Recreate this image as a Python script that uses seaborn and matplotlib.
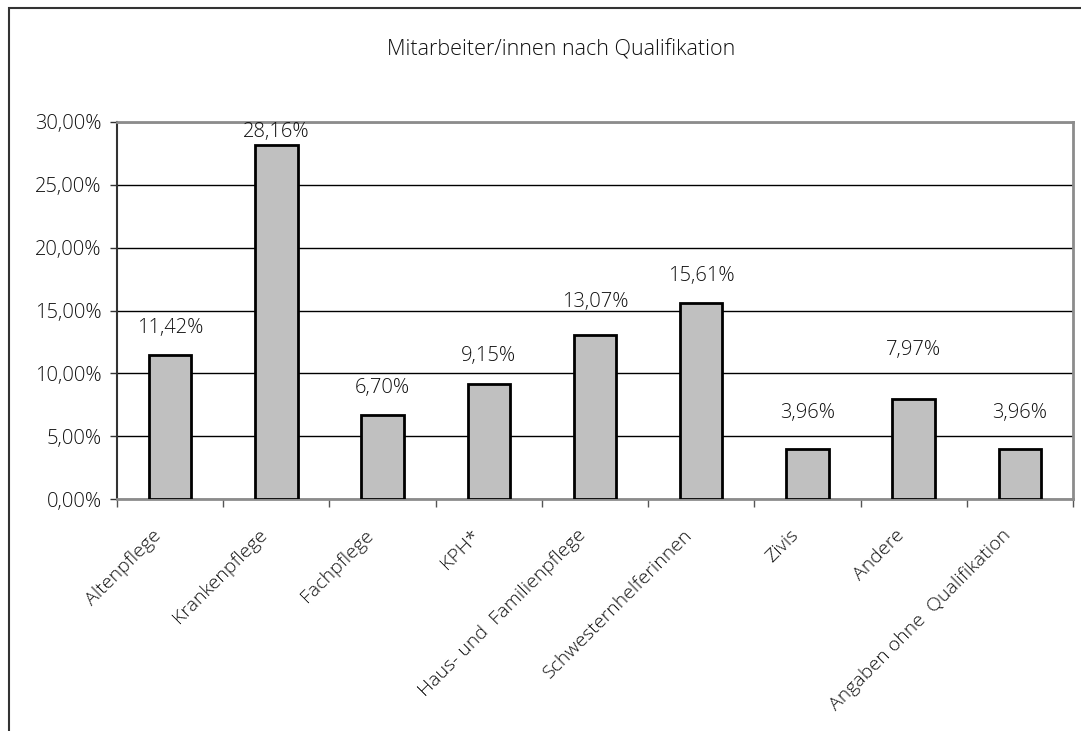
import numpy as np
import pandas as pd
import matplotlib
matplotlib.use("Agg")
import matplotlib.pyplot as plt
import matplotlib.patches as patches
import matplotlib.transforms as mtransforms
from matplotlib.ticker import FixedLocator, FuncFormatter
import seaborn as sns

# Données
qualifikationen = ['Altenpflege', 'Krankenpflege', 'Fachpflege', 'KPH*',
                   'Haus- und  Familienpflege', 'Schwesternhelferinnen', 'Zivis',
                   'Andere', 'Angaben ohne  Qualifikation']
anteile = [11.42, 28.16, 6.70, 9.15, 13.07, 15.61, 3.96, 7.97, 3.96]
# écart (en pixels) entre le haut de la barre et l'étiquette, comme dans l'original
ecarts_etiquettes = [17, 3, 17, 18, 23, 17, 26, 39, 26]
y_ticks = [0, 5, 10, 15, 20, 25, 30]

sns.set_style('white')
plt.rcParams['font.family'] = ['Open Sans', 'DejaVu Sans']
plt.rcParams['font.weight'] = 'light'

df = pd.DataFrame({'Qualifikation': qualifikationen, 'Anteil': anteile})

fig = plt.figure(figsize=(10.81, 7.31), dpi=100)
ax = fig.add_axes([117 / 1081, 1 - 499 / 731, (1073 - 117) / 1081, (499 - 122) / 731])

sns.barplot(data=df, x='Qualifikation', y='Anteil', color='#C0C0C0',
            edgecolor='black', linewidth=2, width=0.4, saturation=1, ax=ax, zorder=3)

ax.set_xlim(-0.5, len(qualifikationen) - 0.5)
ax.set_ylim(0, 30)
ax.yaxis.set_major_locator(FixedLocator(y_ticks))
ax.yaxis.set_major_formatter(FuncFormatter(lambda v, p: f'{v:.2f}%'.replace('.', ',')))
ax.grid(axis='y', color='black', linewidth=1, zorder=0)
ax.set_axisbelow(True)
ax.set_xlabel('')
ax.set_ylabel('')

texte = '#111111'
taille = 14.5
for s in ['top', 'right', 'bottom']:
    ax.spines[s].set_color('#8c8c8c')
    ax.spines[s].set_linewidth(2)
ax.spines['left'].set_color('#333333')
ax.spines['left'].set_linewidth(1.5)

ax.tick_params(axis='y', left=True, length=5, width=1, color='#333333',
               labelsize=taille, labelcolor=texte, pad=6)
# tirets de l'axe x aux limites des catégories
ax.set_xticks(np.arange(-0.5, len(qualifikationen), 1), minor=True)
ax.tick_params(axis='x', which='minor', bottom=True, length=6, width=1, color='#555555')
ax.tick_params(axis='x', which='major', bottom=False, length=0, pad=24,
               labelsize=14, labelcolor=texte)
decal = mtransforms.ScaledTranslation(-12 / 100, 0, fig.dpi_scale_trans)
for lab in ax.get_xticklabels():
    lab.set_rotation(45)
    lab.set_ha('right')
    lab.set_va('center')
    lab.set_rotation_mode('anchor')
    lab.set_transform(lab.get_transform() + decal)

# étiquettes des valeurs
for i, (v, e) in enumerate(zip(anteile, ecarts_etiquettes)):
    ax.annotate(f'{v:.2f}%'.replace('.', ','), (i, v), xytext=(0, e * 0.72),
                textcoords='offset points', ha='center', va='bottom',
                fontsize=taille, color=texte, annotation_clip=False)

fig.text(561 / 1081, 1 - 50 / 731, 'Mitarbeiter/innen nach Qualifikation',
         ha='center', va='center', fontsize=15.5, color=texte)

# cadre de la figure (coupé à droite et en bas)
fig.patches.append(patches.Rectangle((9 / 1081, -0.1), 1.2, 1.1 - 8 / 731,
                                     transform=fig.transFigure, fill=False,
                                     edgecolor='#333333', linewidth=1.5))

fig.savefig('out.png', dpi=100)
